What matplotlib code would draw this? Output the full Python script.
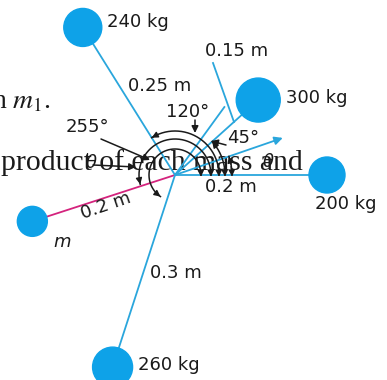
import numpy as np
import matplotlib
matplotlib.use("Agg")
import matplotlib.pyplot as plt

plt.rcParams['mathtext.fontset'] = 'stix'

# ---- data (diagram in pixel units, origin = rotation centre) ----
mass_labels = ["240 kg", "300 kg", "200 kg", "m", "260 kg"]
mass_angles = [122, 42, 0, 198, 252]          # degrees, counter-clockwise from +x
mass_dist = [174, 112, 152, 150, 202]         # distance of mass centre from axis
mass_size = [19, 22, 18, 15, 20]              # drawn radius of the mass
arm_colors = ["#2aa6dc", "#2aa6dc", "#2aa6dc", "#d4237d", "#2aa6dc"]

arm_texts = ["0.25 m", "0.15 m", "0.2 m", "0.2 m", "0.3 m"]

arc_radii = [44, 36, 26, 50, 57]
arc_ends = [122, 195, 236, 42, 19]

angle_labels = ["120°", "255°", "45°", "θ", "θ"]

centre = (175, 175)
W, H = 387, 380

fig = plt.figure(figsize=(W / 100, H / 100), dpi=100)
ax = fig.add_axes([0, 0, 1, 1])
ax.set_xlim(0, W)
ax.set_ylim(H, 0)
ax.axis("off")

blue = "#0ea2e8"
cx, cy = centre


def pt(ang, r):
    a = np.deg2rad(ang)
    return cx + r * np.cos(a), cy - r * np.sin(a)


# background book text (serif)
ax.text(-8, 108, r"n $m_1$.", family="Liberation Serif", fontsize=20,
        color="#1a1a1a", va="baseline", zorder=1)
ax.text(1, 170, "product of each mass and", family="Liberation Serif",
        fontsize=21.3, color="#1a1a1a", va="baseline", zorder=1)

# arms
for ang, d, col in zip(mass_angles, mass_dist, arm_colors):
    x, y = pt(ang, d)
    ax.plot([cx, x], [cy, y], color=col, lw=1.3, zorder=3)

# extra construction lines near the 300 kg mass
x1, y1 = pt(54, 84)
ax.plot([cx, x1], [cy, y1], color="#2aa6dc", lw=1.3, zorder=3)
ax.plot([213, 234], [63, 122], color="#2aa6dc", lw=1.3, zorder=3)

# theta direction arrow
tx, ty = pt(19, 114)
ax.annotate("", xy=(tx, ty), xytext=(cx, cy),
            arrowprops=dict(arrowstyle="-|>", color="#2aa6dc", lw=1.3,
                            mutation_scale=12, shrinkA=0, shrinkB=0), zorder=3)

# masses
for ang, d, s in zip(mass_angles, mass_dist, mass_size):
    x, y = pt(ang, d)
    ax.add_patch(plt.Circle((x, y), s, color=blue, zorder=4))

# arcs with arrowheads
for r, e in zip(arc_radii, arc_ends):
    t = np.linspace(0, e, 200)
    xs, ys = pt(t, r)
    ax.plot(xs, ys, color="#1a1a1a", lw=1.1, zorder=5)
    # arrow at the end of the arc
    xa, ya = pt(e - 8, r)
    xb, yb = pt(e, r)
    ax.annotate("", xy=(xb, yb), xytext=(xa, ya),
                arrowprops=dict(arrowstyle="-|>", color="#1a1a1a", lw=1.0,
                                mutation_scale=9, shrinkA=0, shrinkB=0), zorder=5)
    # arrow at the start (on the zero line)
    xa, ya = pt(6, r)
    xb, yb = pt(0.5, r)
    ax.annotate("", xy=(xb, yb + 2), xytext=(xa, ya),
                arrowprops=dict(arrowstyle="-|>", color="#1a1a1a", lw=1.0,
                                mutation_scale=9, shrinkA=0, shrinkB=0), zorder=5)

# leader arrows
lead = dict(arrowstyle="-|>", color="#1a1a1a", lw=1.1, mutation_scale=10,
            shrinkA=0, shrinkB=0)
ax.annotate("", xy=(195, 133), xytext=(195, 120), arrowprops=lead, zorder=5)
ax.annotate("", xy=(150, 160), xytext=(101, 139), arrowprops=lead, zorder=5)
ax.annotate("", xy=(136, 167), xytext=(93, 165), arrowprops=lead, zorder=5)
ax.annotate("", xy=(211, 141), xytext=(226, 145), arrowprops=lead, zorder=5)

fs = 13
tc = "#1a1a1a"
sans = "DejaVu Sans"
# mass labels
ax.text(107, 22, mass_labels[0], fontsize=fs, family=sans, color=tc, va="center")
ax.text(286, 98, mass_labels[1], fontsize=fs, family=sans, color=tc, va="center")
ax.text(315, 204, mass_labels[2], fontsize=fs, family=sans, color=tc, va="center")
ax.text(53, 242, mass_labels[3], fontsize=fs, family=sans, color=tc, va="center",
        style="italic")
ax.text(138, 365, mass_labels[4], fontsize=fs, family=sans, color=tc, va="center")

# arm length labels
ax.text(128, 86, arm_texts[0], fontsize=fs, family=sans, color=tc, va="center")
ax.text(205, 51, arm_texts[1], fontsize=fs, family=sans, color=tc, va="center")
ax.text(205, 187, arm_texts[2], fontsize=fs, family=sans, color=tc, va="center")
ax.text(106, 206, arm_texts[3], fontsize=fs, family=sans, color=tc, va="center",
        ha="center", rotation=19)
ax.text(150, 273, arm_texts[4], fontsize=fs, family=sans, color=tc, va="center")

# angle labels
ax.text(166, 112, angle_labels[0], fontsize=fs, family=sans, color=tc, va="center")
ax.text(66, 127, angle_labels[1], fontsize=fs, family=sans, color=tc, va="center")
ax.text(227, 138, angle_labels[2], fontsize=fs, family=sans, color=tc, va="center")
ax.text(86, 163, angle_labels[3], fontsize=fs, family=sans, color=tc, va="center",
        style="italic")
ax.text(263, 162, angle_labels[4], fontsize=fs, family=sans, color=tc, va="center",
        style="italic")

fig.savefig("out.png", dpi=100)
